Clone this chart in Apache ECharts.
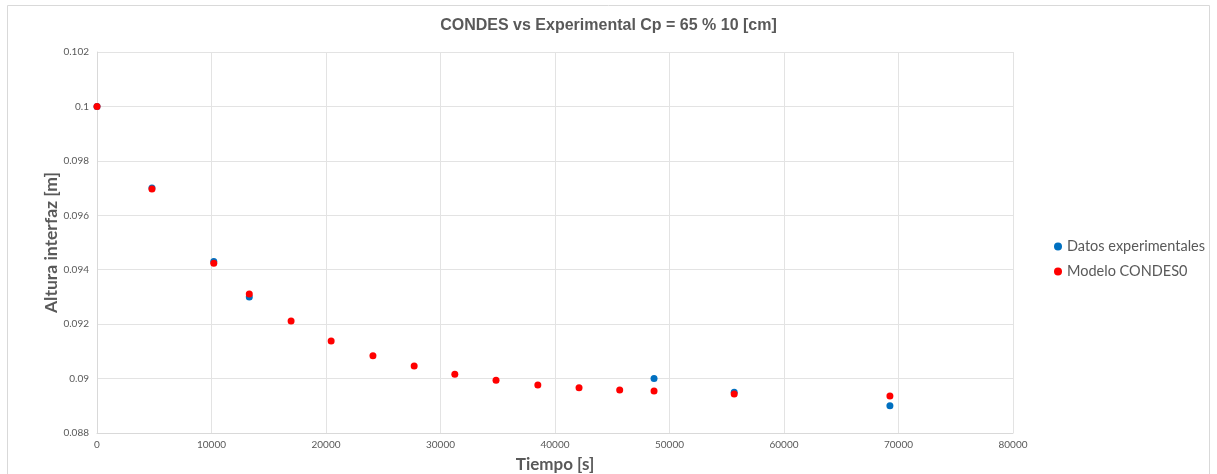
<!DOCTYPE html>
<html>
<head>
<meta charset="utf-8">
<script src="https://cdn.jsdelivr.net/npm/echarts@6/dist/echarts.min.js"></script>
<style>
  html, body { margin: 0; padding: 0; background: #fff; }
  #chart { width: 1217px; height: 474px; }
</style>
</head>
<body>
<div id="chart"></div>
<script>
// datos experimentales [s, m]
const expTime = [0, 4800, 10200, 13300, 48650, 55650, 69250];
const expHeight = [0.1, 0.09700, 0.09430, 0.09300, 0.09000, 0.08950, 0.08900];
// modelo CONDES0
const modTime = [0, 4800, 10200, 13300, 16950, 20450, 24100, 27700, 31250, 34850, 38500, 42100, 45650, 48650, 55650, 69250];
const modHeight = [0.1, 0.09697, 0.09424, 0.09311, 0.09212, 0.09138, 0.09084, 0.09046, 0.09016, 0.08994, 0.08976, 0.08966, 0.08958, 0.08954, 0.08943, 0.08936];

const labelColor = '#595959';
const font = 'Lato, "Open Sans", sans-serif';

function pairs(xs, ys) {
    return xs.map((x, i) => [x, ys[i]]);
}

let myChart = echarts.init(document.getElementById('chart'));
var option = {
    animation: false,
    textStyle: { fontFamily: font },
    graphic: [{
        type: 'rect',
        shape: { x: 7.5, y: 5.5, width: 1202, height: 480 },
        style: { fill: 'none', stroke: '#d9d9d9', lineWidth: 1 },
        silent: true
    }],
    title: {
        text: 'CONDES vs Experimental Cp = 65 % 10 [cm]',
        left: 'center',
        top: 13,
        textStyle: {
            fontFamily: '"Liberation Sans", sans-serif',
            fontSize: 16,
            fontWeight: 'bold',
            color: labelColor
        }
    },
    legend: {
        orient: 'vertical',
        left: 1049,
        top: 234,
        itemGap: 10,
        itemWidth: 8,
        itemHeight: 8,
        icon: 'circle',
        textStyle: { fontSize: 14.5, color: labelColor, fontFamily: font },
        data: ['Datos experimentales', 'Modelo CONDES0']
    },
    grid: {
        left: 97,
        right: 204,
        top: 52,
        bottom: 41,
        outerBoundsMode: 'none'
    },
    xAxis: {
        type: 'value',
        min: 0,
        max: 80000,
        interval: 10000,
        name: 'Tiempo [s]',
        nameLocation: 'middle',
        nameGap: 23,
        nameMoveOverlap: false,
        nameTextStyle: { fontSize: 17, fontWeight: 'bold', color: labelColor },
        axisLine: { lineStyle: { color: '#d9d9d9' } },
        axisTick: { show: false },
        axisLabel: { fontSize: 10, color: labelColor, margin: 7, formatter: v => String(v) },
        splitLine: { lineStyle: { color: '#e3e3e3' } }
    },
    yAxis: {
        type: 'value',
        min: 0.088,
        max: 0.102,
        interval: 0.002,
        name: 'Altura interfaz [m]',
        nameLocation: 'middle',
        nameGap: 37,
        nameMoveOverlap: false,
        nameTextStyle: { fontSize: 17.5, fontWeight: 'bold', color: labelColor },
        axisLine: { show: true, lineStyle: { color: '#d9d9d9' } },
        axisTick: { show: false },
        axisLabel: {
            fontSize: 10,
            color: labelColor,
            margin: 8,
            formatter: v => String(+v.toFixed(3))
        },
        splitLine: { lineStyle: { color: '#e3e3e3' } }
    },
    series: [{
        name: 'Datos experimentales',
        type: 'scatter',
        symbolSize: 7,
        data: pairs(expTime, expHeight),
        itemStyle: { color: '#0070c0', opacity: 1 }
    }, {
        name: 'Modelo CONDES0',
        type: 'scatter',
        symbolSize: 7,
        data: pairs(modTime, modHeight),
        itemStyle: { color: '#ff0000', opacity: 1 }
    }]
};

option && myChart.setOption(option);
</script>
</body>
</html>
